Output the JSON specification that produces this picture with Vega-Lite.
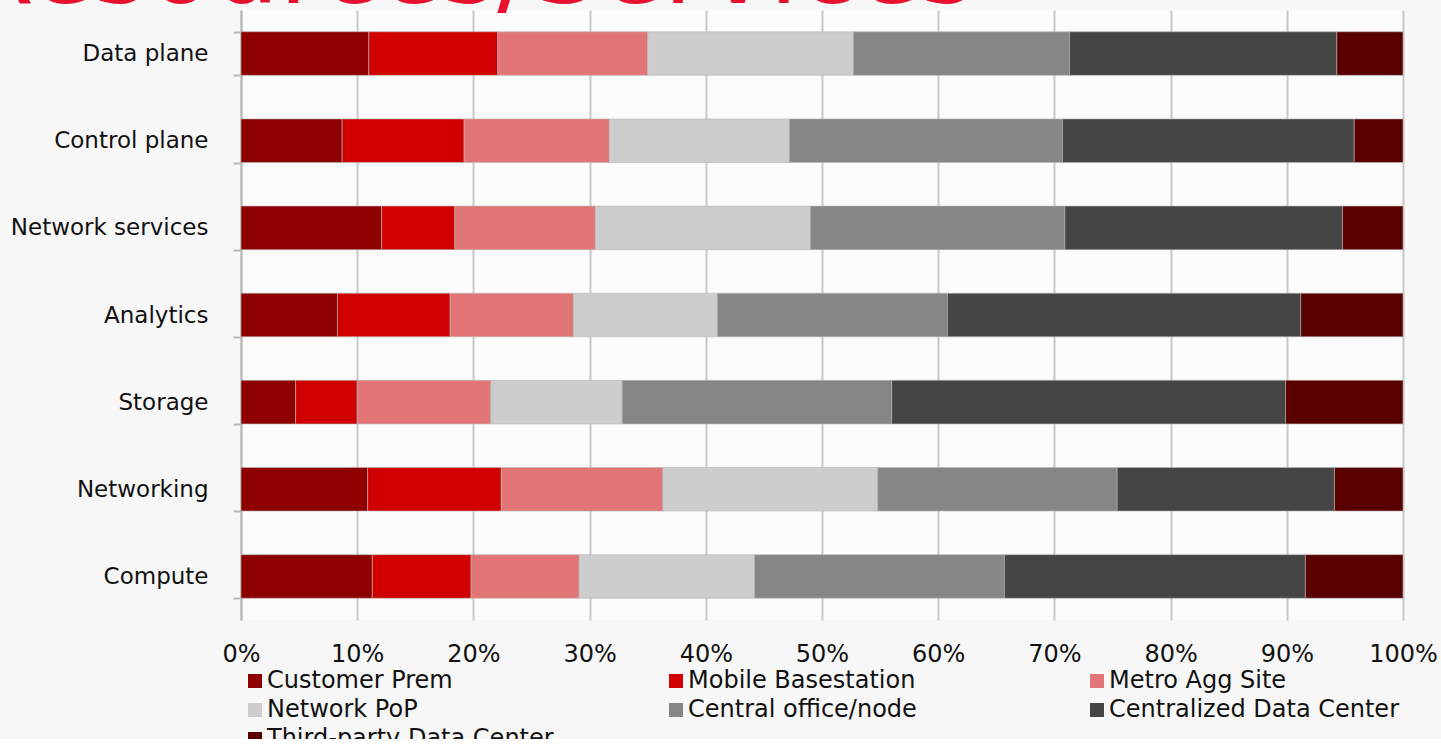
{
  "$schema": "https://vega.github.io/schema/vega-lite/v6.json",
  "width": 1162,
  "height": 610,
  "autosize": {"type": "none"},
  "padding": {"left": 241, "top": 10, "right": 38, "bottom": 119},
  "background": "#f7f7f7",
  "title": {
    "text": "Resources/Services",
    "anchor": "start",
    "frame": "group",
    "orient": "top",
    "baseline": "alphabetic",
    "offset": -109,
    "dx": -280,
    "font": "DejaVu Sans",
    "fontSize": 105,
    "fontWeight": "normal",
    "color": "#E8112D"
  },
  "config": {
    "font": "DejaVu Sans",
    "view": {"stroke": null, "fill": "#fcfcfc"}
  },
  "data": {
    "values": [
      {"cat": "Data plane", "site": "Customer Prem", "v": 11.0},
      {"cat": "Data plane", "site": "Mobile Basestation", "v": 11.1},
      {"cat": "Data plane", "site": "Metro Agg Site", "v": 12.9},
      {"cat": "Data plane", "site": "Network PoP", "v": 17.7},
      {"cat": "Data plane", "site": "Central office/node", "v": 18.6},
      {"cat": "Data plane", "site": "Centralized Data Center", "v": 23.0},
      {"cat": "Data plane", "site": "Third-party Data Center", "v": 5.7},
      {"cat": "Control plane", "site": "Customer Prem", "v": 8.7},
      {"cat": "Control plane", "site": "Mobile Basestation", "v": 10.5},
      {"cat": "Control plane", "site": "Metro Agg Site", "v": 12.5},
      {"cat": "Control plane", "site": "Network PoP", "v": 15.5},
      {"cat": "Control plane", "site": "Central office/node", "v": 23.5},
      {"cat": "Control plane", "site": "Centralized Data Center", "v": 25.1},
      {"cat": "Control plane", "site": "Third-party Data Center", "v": 4.2},
      {"cat": "Network services", "site": "Customer Prem", "v": 12.1},
      {"cat": "Network services", "site": "Mobile Basestation", "v": 6.3},
      {"cat": "Network services", "site": "Metro Agg Site", "v": 12.1},
      {"cat": "Network services", "site": "Network PoP", "v": 18.5},
      {"cat": "Network services", "site": "Central office/node", "v": 21.9},
      {"cat": "Network services", "site": "Centralized Data Center", "v": 23.9},
      {"cat": "Network services", "site": "Third-party Data Center", "v": 5.2},
      {"cat": "Analytics", "site": "Customer Prem", "v": 8.3},
      {"cat": "Analytics", "site": "Mobile Basestation", "v": 9.7},
      {"cat": "Analytics", "site": "Metro Agg Site", "v": 10.6},
      {"cat": "Analytics", "site": "Network PoP", "v": 12.4},
      {"cat": "Analytics", "site": "Central office/node", "v": 19.8},
      {"cat": "Analytics", "site": "Centralized Data Center", "v": 30.4},
      {"cat": "Analytics", "site": "Third-party Data Center", "v": 8.8},
      {"cat": "Storage", "site": "Customer Prem", "v": 4.7},
      {"cat": "Storage", "site": "Mobile Basestation", "v": 5.3},
      {"cat": "Storage", "site": "Metro Agg Site", "v": 11.5},
      {"cat": "Storage", "site": "Network PoP", "v": 11.3},
      {"cat": "Storage", "site": "Central office/node", "v": 23.2},
      {"cat": "Storage", "site": "Centralized Data Center", "v": 33.9},
      {"cat": "Storage", "site": "Third-party Data Center", "v": 10.1},
      {"cat": "Networking", "site": "Customer Prem", "v": 10.9},
      {"cat": "Networking", "site": "Mobile Basestation", "v": 11.5},
      {"cat": "Networking", "site": "Metro Agg Site", "v": 13.9},
      {"cat": "Networking", "site": "Network PoP", "v": 18.5},
      {"cat": "Networking", "site": "Central office/node", "v": 20.6},
      {"cat": "Networking", "site": "Centralized Data Center", "v": 18.7},
      {"cat": "Networking", "site": "Third-party Data Center", "v": 5.9},
      {"cat": "Compute", "site": "Customer Prem", "v": 11.3},
      {"cat": "Compute", "site": "Mobile Basestation", "v": 8.5},
      {"cat": "Compute", "site": "Metro Agg Site", "v": 9.3},
      {"cat": "Compute", "site": "Network PoP", "v": 15.1},
      {"cat": "Compute", "site": "Central office/node", "v": 21.5},
      {"cat": "Compute", "site": "Centralized Data Center", "v": 25.9},
      {"cat": "Compute", "site": "Third-party Data Center", "v": 8.4}
    ]
  },
  "transform": [
    {"calculate": "indexof(['Customer Prem', 'Mobile Basestation', 'Metro Agg Site', 'Network PoP', 'Central office/node', 'Centralized Data Center', 'Third-party Data Center'], datum.site)", "as": "stackOrder"}
  ],
  "mark": {"type": "bar", "stroke": "#b5b5b5", "strokeWidth": 0.6},
  "encoding": {
    "y": {
      "field": "cat",
      "type": "nominal",
      "sort": ["Data plane", "Control plane", "Network services", "Analytics", "Storage", "Networking", "Compute"],
      "scale": {"paddingInner": 0.5, "paddingOuter": 0.25},
      "axis": {
        "title": null,
        "tickBand": "extent",
        "domainColor": "#b8b8b8",
        "domainWidth": 2,
        "tickColor": "#b8b8b8",
        "tickWidth": 2,
        "tickSize": 8,
        "labelPadding": 25,
        "labelFontSize": 23,
        "labelLimit": 400,
        "labelColor": "#111111",
        "grid": false
      }
    },
    "x": {
      "field": "v",
      "type": "quantitative",
      "stack": "normalize",
      "scale": {"domain": [0, 1], "nice": false},
      "axis": {
        "title": null,
        "format": ".0%",
        "values": [0, 0.1, 0.2, 0.3, 0.4, 0.5, 0.6, 0.7, 0.8, 0.9, 1],
        "domain": false,
        "ticks": false,
        "grid": true,
        "gridColor": "#c8c8c8",
        "gridWidth": 2,
        "labelFontSize": 24,
        "labelColor": "#111111",
        "labelPadding": 22,
        "labelFlush": false
      }
    },
    "order": {"field": "stackOrder", "type": "quantitative", "sort": "ascending"},
    "color": {
      "field": "site",
      "type": "nominal",
      "sort": ["Customer Prem", "Mobile Basestation", "Metro Agg Site", "Network PoP", "Central office/node", "Centralized Data Center", "Third-party Data Center"],
      "scale": {
        "domain": ["Customer Prem", "Mobile Basestation", "Metro Agg Site", "Network PoP", "Central office/node", "Centralized Data Center", "Third-party Data Center"],
        "range": ["#8e0000", "#d10000", "#e27575", "#cdcdcd", "#868686", "#454545", "#5a0000"]
      },
      "legend": {
        "title": null,
        "orient": "none",
        "legendX": 2,
        "legendY": 659,
        "direction": "horizontal",
        "columns": 3,
        "gridAlign": "all",
        "columnPadding": 107,
        "rowPadding": 5,
        "symbolType": "square",
        "symbolSize": 196,
        "symbolStrokeWidth": 0,
        "labelFontSize": 24,
        "labelColor": "#111111",
        "labelOffset": 0,
        "labelLimit": 400,
        "padding": 0
      }
    }
  }
}
